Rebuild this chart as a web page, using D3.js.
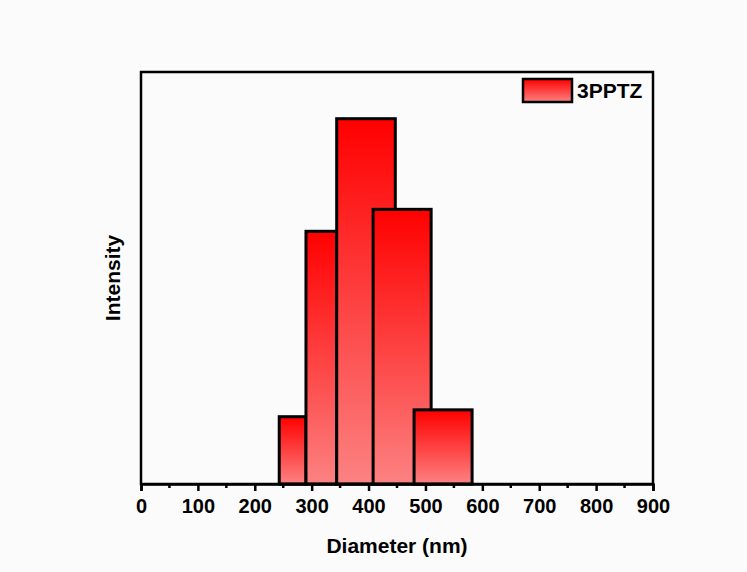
<!DOCTYPE html>
<html>
<head>
<meta charset="utf-8">
<script src="https://cdn.jsdelivr.net/npm/d3@7"></script>
<style>
  body { margin: 0; background: #fbfbfb; }
  svg { display: block; }
  text { font-family: "Liberation Sans", Arial, sans-serif; font-weight: bold; fill: #000; }
</style>
</head>
<body>
<div id="chart"></div>
<script>
// Histogram bins (diameter in nm)
const binStart = [243, 290, 344, 408, 480];
const binEnd = [290, 344, 447, 510, 582];
const intensity = [4.9, 18.4, 26.6, 20.0, 5.4];
const xTicks = [0, 100, 200, 300, 400, 500, 600, 700, 800, 900];
const seriesName = "3PPTZ";

const svgWidth = 747, svgHeight = 572;
const margin = { top: 72, right: 94, bottom: 88, left: 141 };
const width = svgWidth - margin.right;   // right edge of frame
const height = svgHeight - margin.bottom; // bottom of frame

const svg = d3.select("#chart")
    .append("svg")
    .attr("width", svgWidth)
    .attr("height", svgHeight);

const data = binStart.map((s, i) => ({ x0: s, x1: binEnd[i], y: intensity[i] }));

// Scales
const x = d3.scaleLinear().domain([0, 900]).range([margin.left, width]);
const y = d3.scaleLinear().domain([0, 30]).range([height, margin.top]);

// Gradient fill for bars
const defs = svg.append("defs");
const grad = defs.append("linearGradient")
    .attr("id", "barGrad")
    .attr("x1", 0).attr("y1", 0).attr("x2", 0).attr("y2", 1);
grad.append("stop").attr("offset", "0%").attr("stop-color", "#ff0000");
grad.append("stop").attr("offset", "100%").attr("stop-color", "#fc8282");

// Draw bars
svg.append("g")
    .selectAll("rect")
    .data(data)
    .enter().append("rect")
    .attr("x", d => x(d.x0))
    .attr("y", d => y(d.y))
    .attr("width", d => x(d.x1) - x(d.x0))
    .attr("height", d => y(0) - y(d.y))
    .attr("fill", "url(#barGrad)")
    .attr("stroke", "#000")
    .attr("stroke-width", 3);

// Frame (top, right, left)
svg.append("rect")
    .attr("x", margin.left)
    .attr("y", margin.top)
    .attr("width", width - margin.left)
    .attr("height", height - margin.top)
    .attr("fill", "none")
    .attr("stroke", "#000")
    .attr("stroke-width", 2.5);

// Minor ticks
svg.append("g")
    .selectAll("line")
    .data(d3.range(50, 900, 100))
    .enter().append("line")
    .attr("x1", d => x(d)).attr("x2", d => x(d))
    .attr("y1", height).attr("y2", height + 4)
    .attr("stroke", "#000")
    .attr("stroke-width", 2.5);

// X axis
const xAxis = svg.append("g")
    .attr("transform", `translate(0, ${height})`)
    .call(d3.axisBottom(x).tickValues(xTicks).tickSize(7).tickPadding(8).tickFormat(d3.format("d")));
xAxis.select(".domain").attr("stroke-width", 2.5);
xAxis.selectAll(".tick line").attr("stroke-width", 2.5);
xAxis.selectAll(".tick text")
    .attr("font-family", null)
    .style("font-size", "20px");

// X axis label
svg.append("text")
    .attr("x", (margin.left + width) / 2)
    .attr("y", 553)
    .style("text-anchor", "middle")
    .style("font-size", "21px")
    .text("Diameter (nm)");

// Y axis label
svg.append("text")
    .attr("transform", "rotate(-90)")
    .attr("x", -278)
    .attr("y", 120)
    .style("text-anchor", "middle")
    .style("font-size", "21px")
    .text("Intensity");

// Legend
const legend = svg.append("g");
legend.append("rect")
    .attr("x", 523)
    .attr("y", 79)
    .attr("width", 49)
    .attr("height", 23)
    .attr("fill", "url(#barGrad)")
    .attr("stroke", "#000")
    .attr("stroke-width", 2.5);
legend.append("text")
    .attr("x", 577)
    .attr("y", 98)
    .style("font-size", "21px")
    .text(seriesName);
</script>
</body>
</html>
